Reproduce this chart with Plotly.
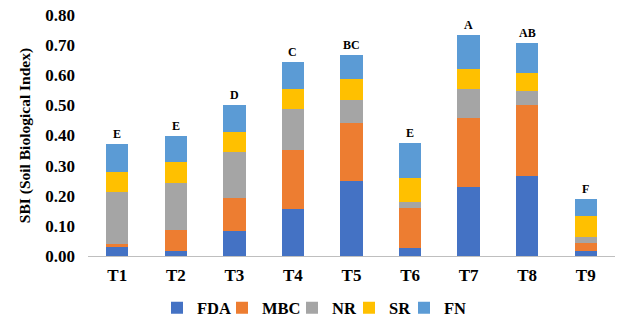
import plotly.graph_objects as go

categories = ["T1", "T2", "T3", "T4", "T5", "T6", "T7", "T8", "T9"]
FDA = [0.030, 0.018, 0.084, 0.157, 0.248, 0.026, 0.229, 0.266, 0.015]
MBC = [0.010, 0.068, 0.110, 0.194, 0.193, 0.133, 0.228, 0.236, 0.029]
NR = [0.173, 0.157, 0.151, 0.136, 0.078, 0.020, 0.098, 0.046, 0.019]
SR = [0.066, 0.068, 0.068, 0.068, 0.069, 0.080, 0.067, 0.060, 0.071]
FN = [0.093, 0.086, 0.087, 0.089, 0.078, 0.115, 0.110, 0.100, 0.055]
letters = ["E", "E", "D", "C", "BC", "E", "A", "AB", "F"]
y_ticks = [0.0, 0.1, 0.2, 0.3, 0.4, 0.5, 0.6, 0.7, 0.8]

series = [("FDA", FDA, "#4472C4"), ("MBC", MBC, "#ED7D31"), ("NR", NR, "#A5A5A5"),
          ("SR", SR, "#FFC000"), ("FN", FN, "#5B9BD5")]
# left edge (px) of each legend entry
legend_x_px = [157, 222, 292, 349, 404]

W, H = 624, 328
font = "Liberation Serif"
def F(size):
    return dict(family=font, size=size, color="black", weight="bold")

fig = go.Figure()
legend_layout = {}
for i, (name, vals, col) in enumerate(series):
    key = "legend" if i == 0 else "legend%d" % (i + 1)
    fig.add_trace(go.Bar(x=categories, y=vals, name=name, marker_color=col,
                         marker_line_width=0, legend=key))
    legend_layout[key] = dict(orientation="h", xref="container", yref="container",
                              x=legend_x_px[i] / W, xanchor="left",
                              y=1 - 308 / H, yanchor="middle",
                              font=F(16.5), itemwidth=30,
                              bgcolor="rgba(0,0,0,0)")

totals = [sum(v) for v in zip(FDA, MBC, NR, SR, FN)]
for c, t, l in zip(categories, totals, letters):
    fig.add_annotation(x=c, y=t, text=l, showarrow=False,
                       yanchor="bottom", yshift=1, font=F(12))

fig.update_layout(
    barmode="stack", bargap=0.62,
    width=W, height=H,
    margin=dict(l=88, r=9, t=15, b=72, autoexpand=False),
    plot_bgcolor="white", paper_bgcolor="white",
    font=F(16),
    showlegend=True,
    **legend_layout,
)
fig.update_xaxes(showline=True, linecolor="#BFBFBF", linewidth=1,
                 tickfont=F(17), ticklabelstandoff=4)
fig.update_yaxes(range=[0, 0.8], tickvals=y_ticks, tickformat=".2f",
                 showgrid=False, zeroline=False, showline=False,
                 tickfont=F(17), ticklabelstandoff=12,
                 title=dict(text="SBI (Soil Biological Index)", font=F(15.5),
                            standoff=10))

fig.write_html("out.html", config={"displayModeBar": False},
               post_script=["document.body.style.margin='0';"])
